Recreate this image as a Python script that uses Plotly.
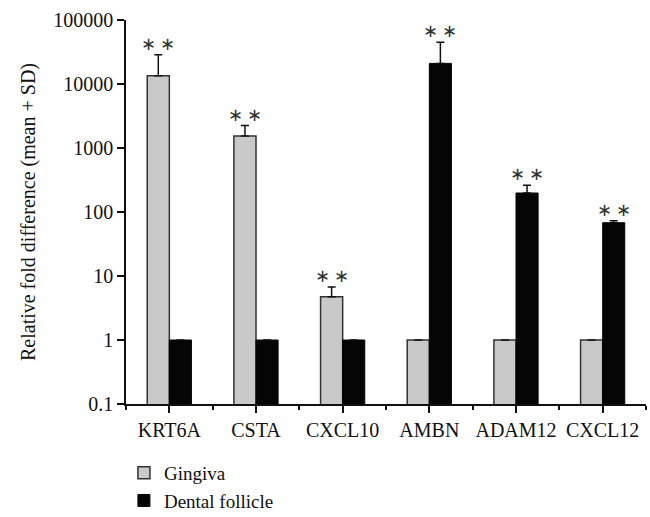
import plotly.graph_objects as go
import math

genes = ["KRT6A", "CSTA", "CXCL10", "AMBN", "ADAM12", "CXCL12"]
gingiva_mean = [13500, 1540, 4.75, 1, 1, 1]
gingiva_sd = [15200, 700, 2.0, None, None, None]
follicle_mean = [1, 1, 1, 21000, 198, 68]
follicle_sd = [None, None, None, 24000, 63, 5]
sig_gingiva = [True, True, True, False, False, False]
sig_follicle = [False, False, False, True, True, True]

y_tickvals = [0.1, 1, 10, 100, 1000, 10000, 100000]
y_ticktext = ["0.1", "1", "10", "100", "1000", "10000", "100000"]

FONT = "Liberation Serif"
FS = 20
xs = list(range(len(genes)))
bar_w = 0.254

fig = go.Figure()
fig.add_trace(go.Bar(
    x=xs, y=gingiva_mean, name="Gingiva",
    marker=dict(color="#c9c9c9", line=dict(color="#333333", width=1.5)),
    error_y=dict(type="data", array=gingiva_sd, arrayminus=[0]*len(genes),
                 symmetric=False, color="#111111", thickness=1.5, width=4),
))
fig.add_trace(go.Bar(
    x=xs, y=follicle_mean, name="Dental follicle",
    marker=dict(color="#050505", line=dict(color="#050505", width=1)),
    error_y=dict(type="data", array=follicle_sd, arrayminus=[0]*len(genes),
                 symmetric=False, color="#111111", thickness=1.5, width=4),
))

annotations = []
for i in xs:
    for sig, mean, sd, off in ((sig_gingiva, gingiva_mean, gingiva_sd, -bar_w/2),
                               (sig_follicle, follicle_mean, follicle_sd, bar_w/2)):
        if sig[i]:
            top = mean[i] + sd[i]
            annotations.append(dict(x=i + off, y=math.log10(top), text="∗\u2009∗",
                                    showarrow=False, yanchor="bottom", yshift=-1,
                                    font=dict(family=FONT, size=18, color="#333")))

fig.update_layout(
    width=650, height=517,
    margin=dict(l=126, r=4, t=20, b=113),
    paper_bgcolor="white", plot_bgcolor="white",
    barmode="group", bargap=0.49, bargroupgap=0,
    font=dict(family=FONT, size=FS, color="#111"),
    showlegend=True,
    legend=dict(xref="paper", x=-0.004, xanchor="left",
                yref="container", y=0.122, yanchor="top",
                font=dict(family=FONT, size=19, color="#111"),
                bgcolor="rgba(0,0,0,0)", borderwidth=0),
    annotations=annotations,
)
fig.update_xaxes(
    range=[-0.5, 5.5], tickmode="array", tickvals=xs, ticktext=genes,
    showline=True, linecolor="#111", linewidth=1.5,
    ticks="outside", ticklen=7, tickwidth=1.5, tickcolor="#111",
    minor=dict(tickmode="linear", tick0=-0.5, dtick=1, ticks="outside",
               ticklen=4, tickwidth=1.5, tickcolor="#111"),
    showgrid=False, zeroline=False,
    tickfont=dict(family=FONT, size=FS, color="#111"),
)
fig.update_yaxes(
    type="log", range=[-1, 5], tickmode="array", tickvals=y_tickvals, ticktext=y_ticktext,
    showline=True, linecolor="#111", linewidth=1.5,
    ticks="outside", ticklen=7, tickwidth=1.5, tickcolor="#111",
    showgrid=False, zeroline=False,
    tickfont=dict(family=FONT, size=FS, color="#111"),
    title=dict(text="Relative fold difference (mean + SD)", standoff=12,
               font=dict(family=FONT, size=FS, color="#111")),
)

fig.write_html("out.html", config={"displayModeBar": False},
               post_script="document.body.style.margin='0';")
